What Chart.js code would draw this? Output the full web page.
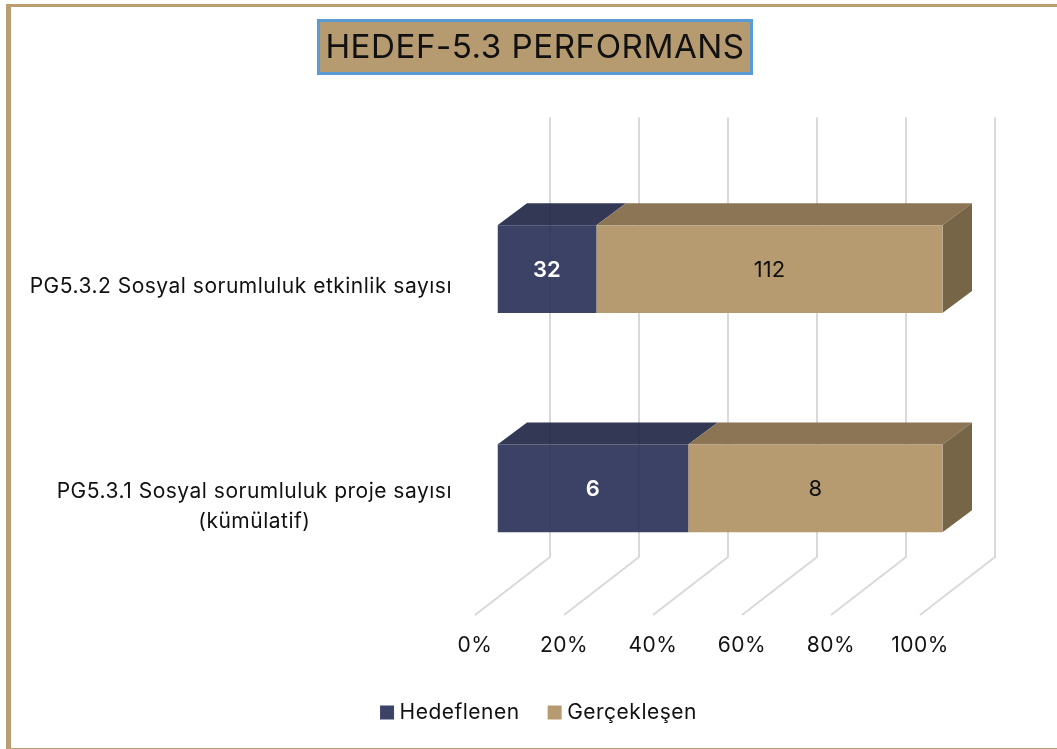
<!DOCTYPE html>
<html>
<head>
<meta charset="utf-8">
<script src="https://cdn.jsdelivr.net/npm/chart.js@4"></script>
<style>
  html, body { margin: 0; padding: 0; background: #fff; }
  #wrap { width: 1057px; height: 749px; }
</style>
</head>
<body>
<div id="wrap"><canvas id="chart" width="1057" height="749"></canvas></div>
<script>
const categories = [
  ['PG5.3.2 Sosyal sorumluluk etkinlik sayısı'],
  ['PG5.3.1 Sosyal sorumluluk proje sayısı', '(kümülatif)']
];
const hedeflenen = [32, 6];
const gerceklesen = [112, 8];
const tickValues = [0, 20, 40, 60, 80, 100];

const FONT = 'Inter, "Liberation Sans", sans-serif';
const NAVY = 'rgba(38,46,85,0.9)';
const TAN = '#b69a70';

// the stack is drawn as share of each row's total
const totals = hedeflenen.map((v, i) => v + gerceklesen[i]);
const sharePct = arr => arr.map((v, i) => v / totals[i] * 100);

const faces = [
  { top: 'rgba(29,34,66,0.9)', side: '#2f3452' },
  { top: '#8b7555', side: '#766546' }
];
const raw = [hedeflenen, gerceklesen];
const labelColors = ['#ffffff', '#111111'];
const labelWeights = ['600', 'normal'];

// offsets of the 3D look
const barShift = { x: 22.5, y: -17 };
const depth = { x: 29.5, y: -22 };
const wall = { x: 75, y: -58 };

const frame3d = {
  id: 'frame3d',
  beforeLayout(chart) {
    chart.ctx.letterSpacing = '0.5px';
  },
  afterLayout(chart) {
    // title and legend are centred on the page, not on the plot
    chart.titleBlock.left += 75;
    chart.titleBlock.right += 75;
    chart.legend.left += 81;
    chart.legend.right += 81;
    chart.legend.top -= 16;
    chart.legend.bottom -= 16;
  },
  beforeDraw(chart) {
    const ctx = chart.ctx;
    ctx.save();
    ctx.fillStyle = '#bb9d72';
    ctx.fillRect(6, 4, 1051, 3);
    ctx.fillRect(6, 4, 5, 745);
    ctx.fillRect(6, 748, 1051, 1);
    ctx.fillStyle = '#5b9bd5';
    ctx.fillRect(317, 19, 436, 56);
    ctx.fillStyle = TAN;
    ctx.fillRect(320, 22, 430, 50);
    ctx.restore();
  },
  beforeDatasetsDraw(chart) {
    const ctx = chart.ctx;
    const x = chart.scales.x;
    const area = chart.chartArea;
    ctx.save();
    ctx.lineWidth = 2;
    ctx.strokeStyle = '#d9d9d9';
    x.ticks.forEach((t, i) => {
      const px = x.getPixelForTick(i);
      ctx.beginPath();
      ctx.moveTo(px, area.bottom);
      ctx.lineTo(px + wall.x, area.bottom + wall.y);
      ctx.lineTo(px + wall.x, area.top + wall.y - 1);
      ctx.stroke();
    });
    // category labels, each line centred on the row's longest line
    const y = chart.scales.y;
    ctx.font = '21px ' + FONT;
    ctx.fillStyle = '#111111';
    ctx.textAlign = 'center';
    ctx.textBaseline = 'middle';
    categories.forEach((lines, i) => {
      const w = Math.max(...lines.map(l => ctx.measureText(l).width));
      const cx = 452 - w / 2;
      const cy = y.getPixelForTick(i) + 1;
      lines.forEach((l, k) => ctx.fillText(l, cx, cy + (k - (lines.length - 1) / 2) * 30));
    });
    ctx.restore();

    // the bars and their faces sit in front of the wall
    ctx.save();
    ctx.translate(barShift.x, barShift.y);
    chart.data.datasets.forEach((ds, d) => {
      chart.getDatasetMeta(d).data.forEach(el => {
        const hh = el.height / 2;
        ctx.fillStyle = faces[d].top;
        ctx.beginPath();
        ctx.moveTo(el.base, el.y - hh);
        ctx.lineTo(el.base + depth.x, el.y - hh + depth.y);
        ctx.lineTo(el.x + depth.x, el.y - hh + depth.y);
        ctx.lineTo(el.x, el.y - hh);
        ctx.closePath();
        ctx.fill();
        if (d === chart.data.datasets.length - 1) {
          ctx.fillStyle = faces[d].side;
          ctx.beginPath();
          ctx.moveTo(el.x, el.y - hh);
          ctx.lineTo(el.x + depth.x, el.y - hh + depth.y);
          ctx.lineTo(el.x + depth.x, el.y + hh + depth.y);
          ctx.lineTo(el.x, el.y + hh);
          ctx.closePath();
          ctx.fill();
        }
      });
    });
    ctx.restore();
  },
  beforeDatasetDraw(chart) {
    chart.ctx.save();
    chart.ctx.translate(barShift.x, barShift.y);
  },
  afterDatasetDraw(chart, args) {
    const ctx = chart.ctx;
    ctx.textAlign = 'center';
    ctx.textBaseline = 'middle';
    ctx.letterSpacing = '0px';
    args.meta.data.forEach((el, i) => {
      ctx.fillStyle = labelColors[args.index];
      ctx.font = labelWeights[args.index] + ' 22px ' + FONT;
      ctx.fillText(String(raw[args.index][i]), (el.base + el.x) / 2, el.y + 1);
    });
    ctx.restore();
  }
};

new Chart(document.getElementById('chart'), {
  type: 'bar',
  data: {
    labels: categories,
    datasets: [
      { label: 'Hedeflenen', data: sharePct(hedeflenen), backgroundColor: NAVY },
      { label: 'Gerçekleşen', data: sharePct(gerceklesen), backgroundColor: TAN }
    ]
  },
  options: {
    indexAxis: 'y',
    responsive: false,
    animation: false,
    events: [],
    layout: { padding: { left: 0, right: 137, bottom: 0, top: 0 } },
    datasets: { bar: { barPercentage: 0.4, categoryPercentage: 1 } },
    plugins: {
      tooltip: { enabled: false },
      title: {
        display: true,
        text: 'HEDEF-5.3 PERFORMANS',
        color: '#111111',
        font: { family: FONT, size: 33.2, weight: 'normal' },
        padding: { top: 28, bottom: 108.7 }
      },
      legend: {
        position: 'bottom',
        labels: {
          color: '#111111',
          font: { family: FONT, size: 21 },
          boxWidth: 4,
          boxHeight: 4,
          padding: 33,
          // 4px box + 10px outline gives the 14px square, close to its text
          generateLabels(chart) {
            return Chart.defaults.plugins.legend.labels.generateLabels(chart).map((item, i) => ({
              ...item,
              fillStyle: ['#3b4366', TAN][i],
              strokeStyle: ['#3b4366', TAN][i],
              lineWidth: 10
            }));
          }
        }
      }
    },
    scales: {
      x: {
        stacked: true,
        min: 0,
        max: 100,
        afterBuildTicks(scale) { scale.ticks = tickValues.map(value => ({ value })); },
        afterFit(scale) { scale.height = 70; },
        grid: { display: false },
        border: { display: false },
        ticks: {
          color: '#111111',
          font: { family: FONT, size: 21 },
          padding: 10,
          maxRotation: 0,
          callback: v => v + '%'
        }
      },
      y: {
        stacked: true,
        afterFit(scale) { scale.width = 475; },
        grid: { display: false },
        border: { display: false },
        ticks: { display: false }
      }
    }
  },
  plugins: [frame3d]
});
</script>
</body>
</html>
